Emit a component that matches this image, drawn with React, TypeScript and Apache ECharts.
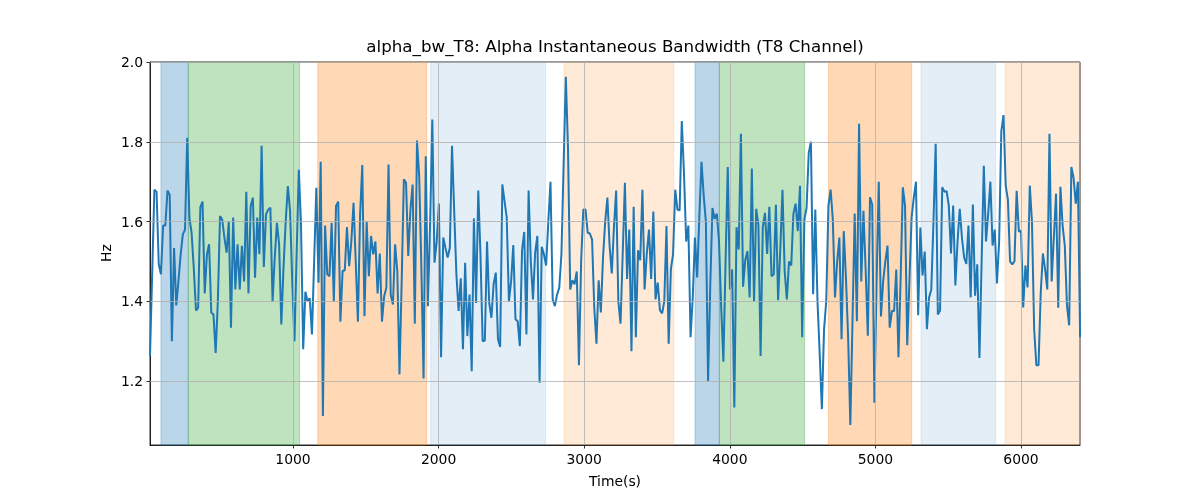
import React, { useEffect, useRef } from "react";
import * as echarts from "echarts";

const T0 = 18;
const STEP = 15.03;
const X_MIN = 18;
const X_MAX = 6405;
const Y_MIN = 1.04;
const Y_MAX = 2.0;

const bandwidth = [
  1.263, 1.47, 1.68, 1.675, 1.493, 1.468, 1.59, 1.59, 1.678, 1.666,
  1.30, 1.534, 1.39, 1.45, 1.517, 1.568, 1.58, 1.81, 1.61, 1.572,
  1.484, 1.377, 1.384, 1.636, 1.65, 1.42, 1.517, 1.543, 1.372, 1.367,
  1.271, 1.40, 1.614, 1.605,
  1.56, 1.522, 1.60, 1.334, 1.61, 1.43, 1.543, 1.43, 1.539, 1.45,
  1.675, 1.42, 1.639, 1.66, 1.459, 1.61, 1.518, 1.79, 1.486, 1.618,
  1.63, 1.635, 1.399, 1.51, 1.597, 1.543, 1.342, 1.484, 1.60, 1.689,
  1.626, 1.45, 1.30, 1.518, 1.73, 1.593,
  1.28, 1.424, 1.40, 1.408, 1.317, 1.50, 1.685, 1.447, 1.75, 1.113,
  1.59, 1.468, 1.463, 1.597, 1.399, 1.639, 1.65, 1.349, 1.476, 1.478,
  1.586, 1.488, 1.55, 1.647, 1.50, 1.349, 1.618, 1.742, 1.363, 1.60,
  1.463, 1.564, 1.518, 1.55, 1.42, 1.52, 1.349, 1.413, 1.434, 1.743,
  1.417, 1.392, 1.543, 1.476, 1.217, 1.45, 1.706, 1.697, 1.514, 1.63,
  1.693, 1.344, 1.803, 1.714, 1.484, 1.207, 1.764, 1.388, 1.60, 1.856,
  1.497, 1.55, 1.645, 1.26, 1.56, 1.534, 1.51, 1.534, 1.79, 1.626,
  1.468, 1.376, 1.458, 1.28,
  1.497, 1.313, 1.417, 1.225, 1.608, 1.396, 1.678, 1.518, 1.30, 1.302,
  1.55, 1.396, 1.359, 1.443, 1.472, 1.305, 1.286, 1.693, 1.651, 1.61,
  1.40, 1.45, 1.541, 1.355, 1.35, 1.288, 1.528, 1.574, 1.317, 1.678,
  1.50, 1.405, 1.523, 1.564, 1.196,
  1.537, 1.518, 1.49, 1.60, 1.70, 1.405, 1.388, 1.417, 1.434, 1.518,
  1.743, 1.963, 1.785, 1.43, 1.453, 1.443, 1.475, 1.24, 1.50, 1.63,
  1.63, 1.572, 1.57, 1.555, 1.384, 1.294, 1.453, 1.372, 1.51, 1.60,
  1.66, 1.54, 1.47, 1.586, 1.678, 1.40,
  1.344, 1.52, 1.697, 1.456, 1.58, 1.275, 1.637, 1.31, 1.528, 1.503,
  1.68, 1.43, 1.52, 1.58, 1.456, 1.625, 1.405, 1.447, 1.378, 1.37,
  1.40, 1.589, 1.294, 1.48, 1.518, 1.68, 1.63, 1.628, 1.852, 1.72,
  1.55, 1.59, 1.31, 1.41, 1.56,
  1.46, 1.61, 1.75, 1.665, 1.60, 1.20, 1.44, 1.634, 1.607, 1.62,
  1.55, 1.385, 1.249, 1.50, 1.737, 1.43, 1.48, 1.134, 1.586, 1.53,
  1.82, 1.437, 1.504, 1.526, 1.41, 1.733, 1.40, 1.632, 1.592, 1.263,
  1.586, 1.622, 1.519, 1.637, 1.463,
  1.468, 1.642, 1.403, 1.53, 1.68, 1.476, 1.405, 1.50, 1.49, 1.62,
  1.645, 1.576, 1.69, 1.31, 1.605, 1.634, 1.772, 1.80, 1.418, 1.63,
  1.40, 1.27, 1.13, 1.33, 1.40, 1.64, 1.68, 1.605, 1.41, 1.50,
  1.56, 1.305, 1.576, 1.46, 1.31, 1.09,
  1.35, 1.62, 1.35, 1.845, 1.45, 1.627, 1.48, 1.314, 1.661, 1.643,
  1.146, 1.45, 1.70, 1.362, 1.45, 1.50, 1.54, 1.334, 1.376, 1.376,
  1.48, 1.26, 1.46, 1.686, 1.64, 1.29, 1.45, 1.61, 1.66, 1.70,
  1.365, 1.585, 1.465, 1.525, 1.33,
  1.41, 1.43, 1.60, 1.795, 1.367, 1.377, 1.686, 1.675, 1.676, 1.64,
  1.52, 1.64, 1.44, 1.55, 1.632, 1.56, 1.51, 1.494, 1.59, 1.41,
  1.643, 1.414, 1.493, 1.258, 1.50, 1.74, 1.55, 1.62, 1.70, 1.54,
  1.58, 1.445, 1.55, 1.827, 1.867,
  1.69, 1.655, 1.50, 1.493, 1.50, 1.677, 1.575, 1.577, 1.385, 1.49,
  1.435, 1.69, 1.60, 1.33, 1.24, 1.24, 1.42, 1.52, 1.48, 1.43,
  1.82, 1.45, 1.56, 1.67, 1.384, 1.687, 1.59, 1.54, 1.39, 1.34,
  1.737, 1.71, 1.645, 1.70, 1.31,
];

const xTicks = [1000, 2000, 3000, 4000, 5000, 6000];
const yTicks = [1.2, 1.4, 1.6, 1.8, 2.0];

const spanStart = [93, 281, 1170, 1946, 2861, 3761, 3928, 4677, 5313, 5890];
const spanEnd = [281, 1046, 1918, 2735, 3615, 3928, 4514, 5249, 5826, 6405];
const spanKind = ["blue", "green", "orange", "lightblue", "lightorange", "blue", "green", "orange", "lightblue", "lightorange"];

const KIND_COLOR: Record<string, string> = {
  blue: "rgba(31,119,180,0.3)",
  green: "rgba(44,160,44,0.3)",
  orange: "rgba(255,127,14,0.3)",
  lightblue: "rgba(31,119,180,0.12)",
  lightorange: "rgba(255,127,14,0.16)",
};

const TITLE = "alpha_bw_T8: Alpha Instantaneous Bandwidth (T8 Channel)";
const FONT = "DejaVu Sans";

export default function App() {
  const ref = useRef<HTMLDivElement>(null);
  useEffect(() => {
    if (!ref.current) return;
    const chart = echarts.init(ref.current, undefined, { renderer: "svg" });
    const lineData = bandwidth.map((v, i) => [T0 + i * STEP, v]);
    const areas = spanStart.map((s, i) => [
      {
        xAxis: s,
        itemStyle: {
          color: KIND_COLOR[spanKind[i]],
          borderColor: KIND_COLOR[spanKind[i]],
          borderWidth: 1,
        },
      },
      { xAxis: spanEnd[i] },
    ]);
    const gridLines = [
      ...xTicks.map((x) => ({ xAxis: x })),
      ...yTicks.map((y) => ({ yAxis: y })),
    ];
    chart.setOption({
      animation: false,
      grid: {
        left: 150,
        right: 120,
        top: 62,
        bottom: 55,
        show: true,
        borderColor: "#000",
        borderWidth: 0.8,
        backgroundColor: "transparent",
      },
      xAxis: {
        type: "value",
        min: X_MIN,
        max: X_MAX,
        splitLine: { show: false },
        axisLine: { show: true, lineStyle: { color: "#000", width: 0.8 } },
        axisTick: { show: true, customValues: xTicks, length: 3.5, lineStyle: { color: "#000", width: 0.8 } },
        axisLabel: {
          customValues: xTicks,
          margin: 7,
          color: "#000",
          fontSize: 13.9,
          fontFamily: FONT,
          formatter: (v: number) => String(v),
        },
      },
      yAxis: {
        type: "value",
        min: Y_MIN,
        max: Y_MAX,
        splitLine: { show: false },
        axisLine: { show: true, lineStyle: { color: "#000", width: 0.8 } },
        axisTick: { show: true, customValues: yTicks, length: 3.5, lineStyle: { color: "#000", width: 0.8 } },
        axisLabel: {
          customValues: yTicks,
          margin: 7,
          color: "#000",
          fontSize: 13.9,
          fontFamily: FONT,
          formatter: (v: number) => v.toFixed(1),
        },
      },
      graphic: [
        {
          type: "text",
          x: 615,
          y: 46,
          style: { text: TITLE, fill: "#000", fontSize: 16.7, fontFamily: FONT, textAlign: "center", textVerticalAlign: "middle" },
        },
        {
          type: "text",
          x: 615,
          y: 481,
          style: { text: "Time(s)", fill: "#000", fontSize: 13.9, fontFamily: FONT, textAlign: "center", textVerticalAlign: "middle" },
        },
        {
          type: "text",
          x: 106,
          y: 253,
          rotation: Math.PI / 2,
          style: { text: "Hz", fill: "#000", fontSize: 13.9, fontFamily: FONT, textAlign: "center", textVerticalAlign: "middle" },
        },
      ],
      series: [
        {
          type: "line",
          data: [],
          z: 1,
          silent: true,
          markArea: { silent: true, data: areas },
        },
        {
          type: "line",
          data: [],
          z: 2,
          silent: true,
          markLine: {
            silent: true,
            symbol: ["none", "none"],
            label: { show: false },
            lineStyle: { color: "#b0b0b0", width: 0.8, type: "solid" },
            data: gridLines,
          },
        },
        {
          type: "line",
          data: lineData,
          z: 3,
          showSymbol: false,
          symbol: "none",
          silent: true,
          lineStyle: { color: "#1f77b4", width: 2 },
        },
      ],
    });
    return () => chart.dispose();
  }, []);
  return <div ref={ref} style={{ position: "fixed", left: 0, top: 0, width: 1200, height: 500 }} />;
}
